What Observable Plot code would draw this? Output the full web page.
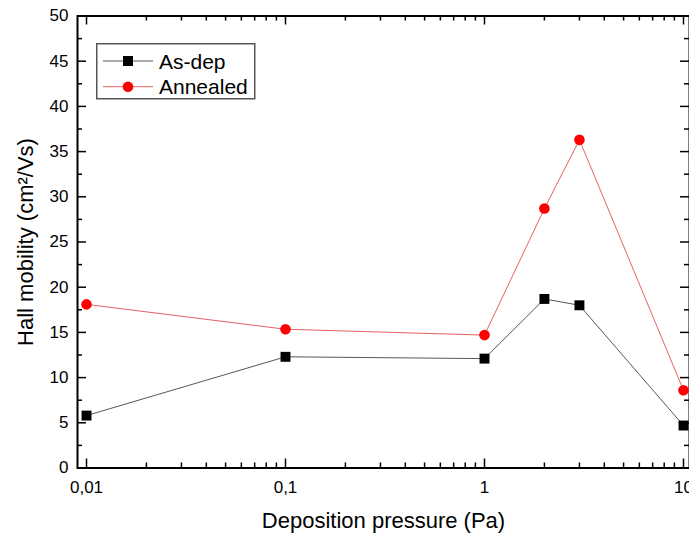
<!DOCTYPE html>
<html><head><meta charset="utf-8">
<script src="https://cdn.jsdelivr.net/npm/d3@7"></script>
<script src="https://cdn.jsdelivr.net/npm/@observablehq/plot@0.6"></script>
<style>
body{margin:0;background:#fff;}
#wrap{position:relative;width:689px;height:536px;overflow:hidden;font-family:"Liberation Sans",Arial,sans-serif;}
#legend{position:absolute;left:96px;top:43px;}
</style></head><body><div id="wrap"></div>
<script>
// ---- data ----
const pressure = [0.01, 0.1, 1, 2, 3, 10];
const asDep = [5.8, 12.3, 12.1, 18.7, 18.0, 4.7];
const annealed = [18.1, 15.35, 14.7, 28.7, 36.3, 8.6];
const seriesNames = ["As-dep", "Annealed"];
const seriesColors = ["#000000", "#ff0000"];
const lineColors = ["#444444", "#e05050"];
const xTitle = "Deposition pressure (Pa)";
const yTitle = "Hall mobility (cm²/Vs)";
const xMajorTicks = [0.01, 0.1, 1, 10];
const xTickLabels = ["0,01", "0,1", "1", "10"];
const xMinorTicks = [0.02,0.03,0.04,0.05,0.06,0.07,0.08,0.09,0.2,0.3,0.4,0.5,0.6,0.7,0.8,0.9,2,3,4,5,6,7,8,9];
const yMajorTicks = [0,5,10,15,20,25,30,35,40,45,50];
const yMinorTicks = [2.5,7.5,12.5,17.5,22.5,27.5,32.5,37.5,42.5,47.5];

const rowsAsDep = pressure.map((p, i) => ({p, v: asDep[i]}));
const rowsAnn = pressure.map((p, i) => ({p, v: annealed[i]}));

const W = 689, H = 536, mL = 77, mR = 0, mT = 15.5, mB = 68.5;
const frameH = H - mT - mB, frameW = W - mL - mR;
const major = 9, minor = 5;
const font = '"Liberation Sans", Arial, sans-serif';

const chart = Plot.plot({
  width: W, height: H,
  marginLeft: mL, marginRight: mR, marginTop: mT, marginBottom: mB,
  style: {fontFamily: font, fontSize: "17px", background: "white", color: "black", overflow: "visible"},
  x: {type: "log", domain: [0.00901, 10.72]},
  y: {domain: [0, 50]},
  marks: [
    Plot.axisX({ticks: xMajorTicks, tickFormat: d => xTickLabels[xMajorTicks.indexOf(d)], tickSize: 0, tickPadding: 12.5, fontSize: 17, label: null}),
    Plot.axisY({ticks: yMajorTicks, tickSize: 0, tickPadding: 9, fontSize: 17, label: null}),
    // inward ticks: bottom, top
    Plot.tickX(xMajorTicks, {x: d => d, insetTop: frameH - major, stroke: "black", strokeWidth: 1.5}),
    Plot.tickX(xMajorTicks, {x: d => d, insetBottom: frameH - major, stroke: "black", strokeWidth: 1.5}),
    Plot.tickX(xMinorTicks, {x: d => d, insetTop: frameH - minor, stroke: "black", strokeWidth: 1.5}),
    Plot.tickX(xMinorTicks, {x: d => d, insetBottom: frameH - minor, stroke: "black", strokeWidth: 1.5}),
    // inward ticks: left, right
    Plot.tickY(yMajorTicks, {y: d => d, insetRight: frameW - major, stroke: "black", strokeWidth: 1.5}),
    Plot.tickY(yMajorTicks, {y: d => d, insetLeft: frameW - major, stroke: "black", strokeWidth: 1.5}),
    Plot.tickY(yMinorTicks, {y: d => d, insetRight: frameW - minor, stroke: "black", strokeWidth: 1.5}),
    Plot.tickY(yMinorTicks, {y: d => d, insetLeft: frameW - minor, stroke: "black", strokeWidth: 1.5}),
    Plot.frame({stroke: "black", strokeWidth: 2}),
    Plot.line(rowsAsDep, {x: "p", y: "v", stroke: lineColors[0], strokeWidth: 0.9}),
    Plot.line(rowsAnn, {x: "p", y: "v", stroke: lineColors[1], strokeWidth: 0.9}),
    Plot.dot(rowsAsDep, {x: "p", y: "v", symbol: "square", r: 5.6, fill: seriesColors[0], stroke: "none"}),
    Plot.dot(rowsAnn, {x: "p", y: "v", symbol: "circle", r: 5.3, fill: seriesColors[1], stroke: "none"}),
    Plot.text([xTitle], {text: d => d, frameAnchor: "bottom", dy: 44.5, lineAnchor: "top", textAnchor: "middle", fontSize: 22, fill: "black"}),
    Plot.text([yTitle], {text: d => d, frameAnchor: "left", rotate: -90, textAnchor: "middle", dx: -52, fontSize: 22, fill: "black"})
  ]
});
const wrap = document.getElementById("wrap");
wrap.appendChild(chart);

// legend overlay
const lg = d3.select(wrap).append("svg").attr("id", "legend")
  .attr("width", 160).attr("height", 57);
lg.append("rect").attr("x", 0.75).attr("y", 0.75).attr("width", 158).attr("height", 55)
  .attr("fill", "white").attr("stroke", "#555").attr("stroke-width", 1.5);
seriesNames.forEach((name, i) => {
  const cy = 18 + i * 25.7;
  lg.append("line").attr("x1", 7).attr("x2", 57).attr("y1", cy).attr("y2", cy)
    .attr("stroke", lineColors[i]).attr("stroke-width", 0.9);
  if (i === 0) {
    lg.append("rect").attr("x", 32 - 5).attr("y", cy - 5).attr("width", 10).attr("height", 10).attr("fill", seriesColors[i]);
  } else {
    lg.append("circle").attr("cx", 32).attr("cy", cy).attr("r", 5.3).attr("fill", seriesColors[i]);
  }
  lg.append("text").attr("x", 63).attr("y", cy).attr("dy", "0.36em")
    .attr("font-family", font).attr("font-size", 21).attr("fill", "black").text(name);
});
</script></body></html>
